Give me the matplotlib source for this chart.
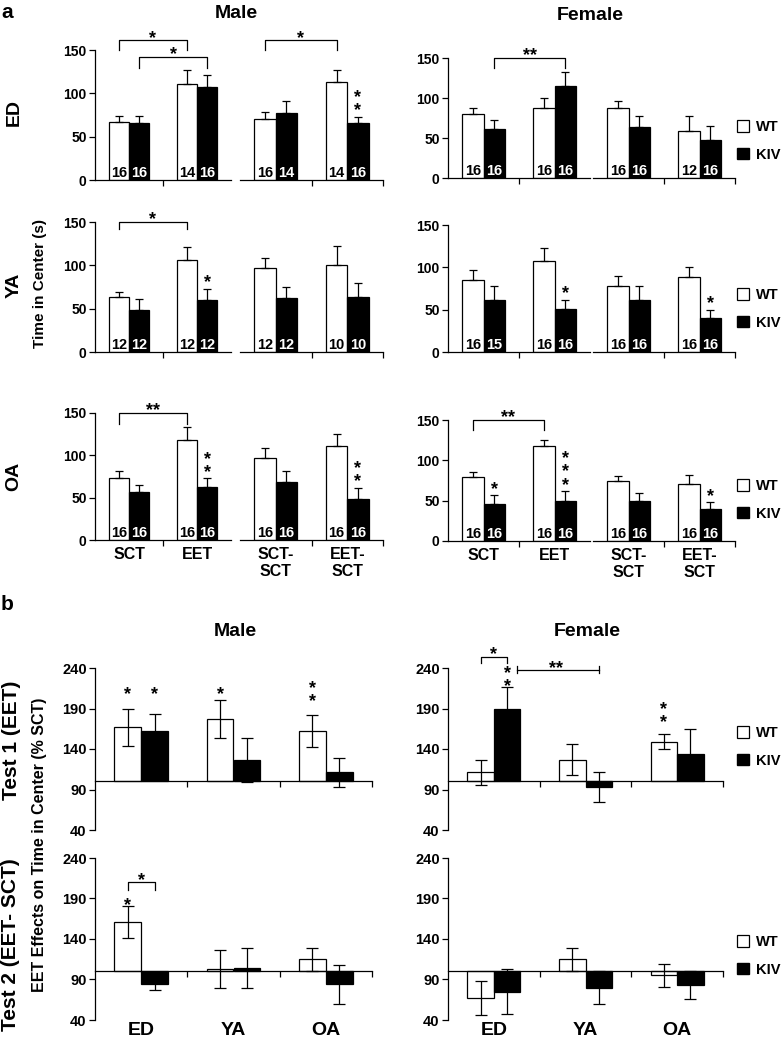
import matplotlib.pyplot as plt
import numpy as np
from matplotlib.patches import Patch

plt.rcParams['font.family'] = ['Liberation Sans', 'DejaVu Sans']
plt.rcParams['font.weight'] = 'bold'
plt.rcParams['axes.linewidth'] = 0.9

# ---- panel a: time in center (s), rows ED / YA / OA, cols SCT, EET, SCT-SCT, EET-SCT
ages = ['ED', 'YA', 'OA']
conds_a = ['SCT', 'EET', 'SCT-\nSCT', 'EET-\nSCT']

male_wt = [[67, 111, 70, 113], [63, 106, 97, 100], [73, 118, 97, 111]]
male_wt_err = [[7, 16, 9, 14], [6, 15, 12, 22], [8, 15, 12, 14]]
male_kiv = [[66, 107, 77, 66], [48, 60, 62, 64], [57, 63, 68, 48]]
male_kiv_err = [[8, 14, 14, 7], [13, 13, 13, 16], [8, 10, 13, 14]]
male_wt_n = [[16, 14, 16, 14], [12, 12, 12, 10], [16, 16, 16, 16]]
male_kiv_n = [[16, 16, 14, 16], [12, 12, 12, 10], [16, 16, 16, 16]]
male_kiv_sig = [['', '', '', '**'], ['', '*', '', ''], ['', '**', '', '**']]

female_wt = [[80, 88, 88, 59], [85, 107, 78, 89], [79, 118, 74, 71]]
female_wt_err = [[8, 12, 8, 19], [12, 16, 12, 11], [7, 7, 6, 11]]
female_kiv = [[61, 115, 64, 48], [62, 51, 62, 40], [46, 50, 49, 40]]
female_kiv_err = [[12, 17, 14, 17], [16, 11, 16, 10], [11, 12, 10, 8]]
female_wt_n = [[16, 16, 16, 12], [16, 16, 16, 16], [16, 16, 16, 16]]
female_kiv_n = [[16, 16, 16, 16], [15, 16, 16, 16], [16, 16, 16, 16]]
female_kiv_sig = [['', '', '', ''], ['', '*', '', '*'], ['*', '***', '', '*']]

# brackets: (sex, row, half, x1, x2, line y, arm y, label)
a_brackets = [
    ('male', 0, 0, -0.15, 0.85, 161, 150, '*'),
    ('male', 0, 0, 0.15, 1.15, 142, 129, '*'),
    ('male', 0, 1, -0.15, 0.85, 161, 150, '*'),
    ('female', 0, 0, 0.15, 1.15, 150, 137, '**'),
    ('male', 1, 0, -0.15, 0.85, 150, 142, '*'),
    ('male', 2, 0, -0.15, 0.85, 150, 137, '**'),
    ('female', 2, 0, -0.15, 0.85, 150, 137, '**'),
]

# ---- panel b: EET effects (% SCT)
groups_b = ['ED', 'YA', 'OA']
m_t1_wt = [167, 177, 162]
m_t1_wt_err = [23, 23, 20]
m_t1_kiv = [162, 126, 111]
m_t1_kiv_err = [21, 27, 18]
f_t1_wt = [111, 127, 149]
f_t1_wt_err = [15, 19, 9]
f_t1_kiv = [190, 93, 134]
f_t1_kiv_err = [26, 19, 31]
m_t2_wt = [161, 103, 115]
m_t2_wt_err = [20, 23, 14]
m_t2_kiv = [85, 104, 84]
m_t2_kiv_err = [8, 25, 24]
f_t2_wt = [67, 115, 95]
f_t2_wt_err = [21, 14, 14]
f_t2_kiv = [75, 80, 83]
f_t2_kiv_err = [28, 20, 17]

# stars: (test, sex, group, genotype offset, label, y of lowest star)
b_stars = [
    (0, 'male', 0, -1, '*', 214), (0, 'male', 0, 1, '*', 214),
    (0, 'male', 1, -1, '*', 214), (0, 'male', 2, -1, '**', 205),
    (0, 'female', 0, 1, '**', 223), (0, 'female', 2, -1, '**', 179),
    (1, 'male', 0, -1, '*', 188),
]

W, H = 784, 1042
fig = plt.figure(figsize=(W / 100, H / 100), dpi=100)


def px_axes(x0, x1, ytop, ybot):
    return fig.add_axes([x0 / W, 1 - ybot / H, (x1 - x0) / W, (ybot - ytop) / H])


def ftext(x, y, s, size, rot=0):
    fig.text(x / W, 1 - y / H, s, ha='center', va='center', fontsize=size,
             rotation=rot, fontweight='bold')


def stars(ax, x, y, label, extra=-1.9):
    # vertical stack of asterisks as one text, lowest one just above y
    ax.annotate('\n'.join(label), (x, y), xytext=(0, extra), textcoords='offset points',
                ha='center', va='bottom', fontsize=13, linespacing=0.7,
                annotation_clip=False)


def bracket(ax, x1, x2, y, arm, label):
    ax.plot([x1, x1, x2, x2], [arm, y, y, arm], color='black', lw=0.9, clip_on=False)
    ax.annotate(label, ((x1 + x2) / 2, y), xytext=(0, -1.8), textcoords='offset points',
                ha='center', va='baseline', fontsize=13, annotation_clip=False)


def legend(yc):
    h = [Patch(facecolor='white', edgecolor='black', lw=0.9, label='WT'),
         Patch(facecolor='black', edgecolor='black', label='KIV')]
    fig.legend(handles=h, loc='center left', bbox_to_anchor=(737 / W, 1 - yc / H),
               frameon=False, fontsize=10.5, handlelength=0.8, handleheight=0.8,
               handletextpad=0.5, labelspacing=0.95, borderpad=0, borderaxespad=0)


# ---------------- panel a ----------------
a_xpos = {'male': [(95, 231), (240, 383)], 'female': [(448, 590), (593, 735)]}
a_ypos = {'male': [(50, 180), (222, 352), (413, 540)],
          'female': [(58, 178), (225, 352), (420, 541)]}
a_data = {'male': (male_wt, male_wt_err, male_kiv, male_kiv_err, male_wt_n, male_kiv_n, male_kiv_sig),
          'female': (female_wt, female_wt_err, female_kiv, female_kiv_err, female_wt_n, female_kiv_n,
                     female_kiv_sig)}
a_axes = {}
for sex in ['male', 'female']:
    wt, wte, kiv, kive, wn, kn, sig = a_data[sex]
    for r in range(3):
        for half in range(2):
            x0, x1 = a_xpos[sex][half]
            ytop, ybot = a_ypos[sex][r]
            ax = px_axes(x0, x1, ytop, ybot)
            a_axes[(sex, r, half)] = ax
            sl = slice(2 * half, 2 * half + 2)
            x = np.arange(2)
            w = np.array(wt[r][sl])
            k = np.array(kiv[r][sl])
            ax.bar(x - 0.15, w, 0.3, color='white', edgecolor='black', lw=0.9)
            ax.bar(x + 0.15, k, 0.3, color='black', edgecolor='black', lw=0.9)
            ax.errorbar(x - 0.15, w, yerr=[np.zeros(2), wte[r][sl]], fmt='none',
                        ecolor='black', elinewidth=0.9, capsize=3, capthick=0.9)
            ax.errorbar(x + 0.15, k, yerr=[np.zeros(2), kive[r][sl]], fmt='none',
                        ecolor='black', elinewidth=0.9, capsize=3, capthick=0.9)
            for i in range(2):
                ax.text(i - 0.15, 4, str(wn[r][sl][i]), ha='center', va='baseline',
                        fontsize=10.5, color='black')
                ax.text(i + 0.15, 4, str(kn[r][sl][i]), ha='center', va='baseline',
                        fontsize=10.5, color='white')
                s = sig[r][sl][i]
                if s:
                    stars(ax, i + 0.15, k[i] + kive[r][sl][i], s)
            ax.set_xlim(-0.5, 1.5)
            ax.set_ylim(0, 150)
            ax.spines['top'].set_visible(False)
            ax.spines['right'].set_visible(False)
            if half == 0:
                ax.set_yticks([0, 50, 100, 150])
                ax.set_xticks([0.5])
            else:
                ax.spines['left'].set_visible(False)
                ax.set_yticks([])
                ax.set_xticks([0.5, 1.5])
            ax.tick_params(axis='both', direction='out', length=4, width=0.9,
                           labelsize=10, pad=2)
            ax.set_xticklabels([])
            if r == 2:
                ax.set_xticks([0, 1], conds_a[2 * half:2 * half + 2], minor=True)
                ax.tick_params(axis='x', which='minor', length=0, labelsize=11.5, pad=5)
            ax.patch.set_visible(False)

for sex, r, half, xa, xb, y, arm, lab in a_brackets:
    bracket(a_axes[(sex, r, half)], xa, xb, y, arm, lab)

for yc in [141, 309, 500]:
    legend(yc)

# ---------------- panel b ----------------
b_xpos = {'male': (95, 372), 'female': (448, 723)}
b_ypos = [(668, 830), (858, 1020)]
b_data = {(0, 'male'): (m_t1_wt, m_t1_wt_err, m_t1_kiv, m_t1_kiv_err),
          (0, 'female'): (f_t1_wt, f_t1_wt_err, f_t1_kiv, f_t1_kiv_err),
          (1, 'male'): (m_t2_wt, m_t2_wt_err, m_t2_kiv, m_t2_kiv_err),
          (1, 'female'): (f_t2_wt, f_t2_wt_err, f_t2_kiv, f_t2_kiv_err)}
b_axes = {}
for t in range(2):
    for sex in ['male', 'female']:
        wt, wte, kiv, kive = b_data[(t, sex)]
        ax = px_axes(b_xpos[sex][0], b_xpos[sex][1], b_ypos[t][0], b_ypos[t][1])
        b_axes[(t, sex)] = ax
        x = np.arange(3)
        ax.bar(x - 0.145, np.array(wt) - 100, 0.29, bottom=100, color='white',
               edgecolor='black', lw=0.9)
        ax.bar(x + 0.145, np.array(kiv) - 100, 0.29, bottom=100, color='black',
               edgecolor='black', lw=0.9)
        ax.errorbar(x - 0.145, wt, yerr=wte, fmt='none', ecolor='black',
                    elinewidth=0.9, capsize=4, capthick=0.9)
        ax.errorbar(x + 0.145, kiv, yerr=kive, fmt='none', ecolor='black',
                    elinewidth=0.9, capsize=4, capthick=0.9)
        ax.set_xlim(-0.5, 2.5)
        ax.set_ylim(40, 240)
        ax.set_yticks([40, 90, 140, 190, 240])
        ax.set_xticks([0.5, 1.5, 2.5])
        ax.set_xticklabels([])
        ax.spines['bottom'].set_position(('data', 100))
        ax.spines['top'].set_visible(False)
        ax.spines['right'].set_visible(False)
        ax.tick_params(axis='both', direction='out', length=4, width=0.9,
                       labelsize=10.5, pad=2)
        ax.patch.set_visible(False)
        if t == 1:
            for i, g in enumerate(groups_b):
                ax.text(i, -0.065, g, transform=ax.get_xaxis_transform(), ha='center',
                        va='center', fontsize=14)

for t, sex, g, side, lab, y in b_stars:
    stars(b_axes[(t, sex)], g + side * 0.145, y, lab, extra=-9.9)

# female test 1 brackets
axf = b_axes[(0, 'female')]
bracket(axf, -0.145, 0.145, 254, 246, '*')
axf.plot([0.25, 1.145], [238, 238], color='black', lw=0.9, clip_on=False)
axf.plot([0.25, 0.25], [234, 242], color='black', lw=0.9, clip_on=False)
axf.plot([1.145, 1.145], [234, 242], color='black', lw=0.9, clip_on=False)
axf.annotate('**', (0.68, 238), xytext=(0, -2.5), textcoords='offset points',
             ha='center', va='baseline', fontsize=13, annotation_clip=False)
# male test 2 bracket
bracket(b_axes[(1, 'male')], -0.145, 0.145, 210, 200, '*')

for yc in [747, 956]:
    legend(yc)

# ---------------- labels ----------------
ftext(7, 12, 'a', 15)
ftext(236, 14, 'Male', 14)
ftext(590, 15, 'Female', 14)
ftext(14, 113, 'ED', 14, 90)
ftext(14, 285, 'YA', 14, 90)
ftext(14, 476, 'OA', 14, 90)
ftext(40, 283, 'Time in Center (s)', 11, 90)
ftext(7, 605, 'b', 15)
ftext(235, 631, 'Male', 14)
ftext(587, 631, 'Female', 14)
ftext(12, 740, 'Test 1 (EET)', 15, 90)
ftext(40, 845, 'EET Effects on Time in Center (% SCT)', 11.5, 90)
ftext(11, 945, 'Test 2 (EET- SCT)', 15, 90)

fig.savefig('out.png', dpi=100)
